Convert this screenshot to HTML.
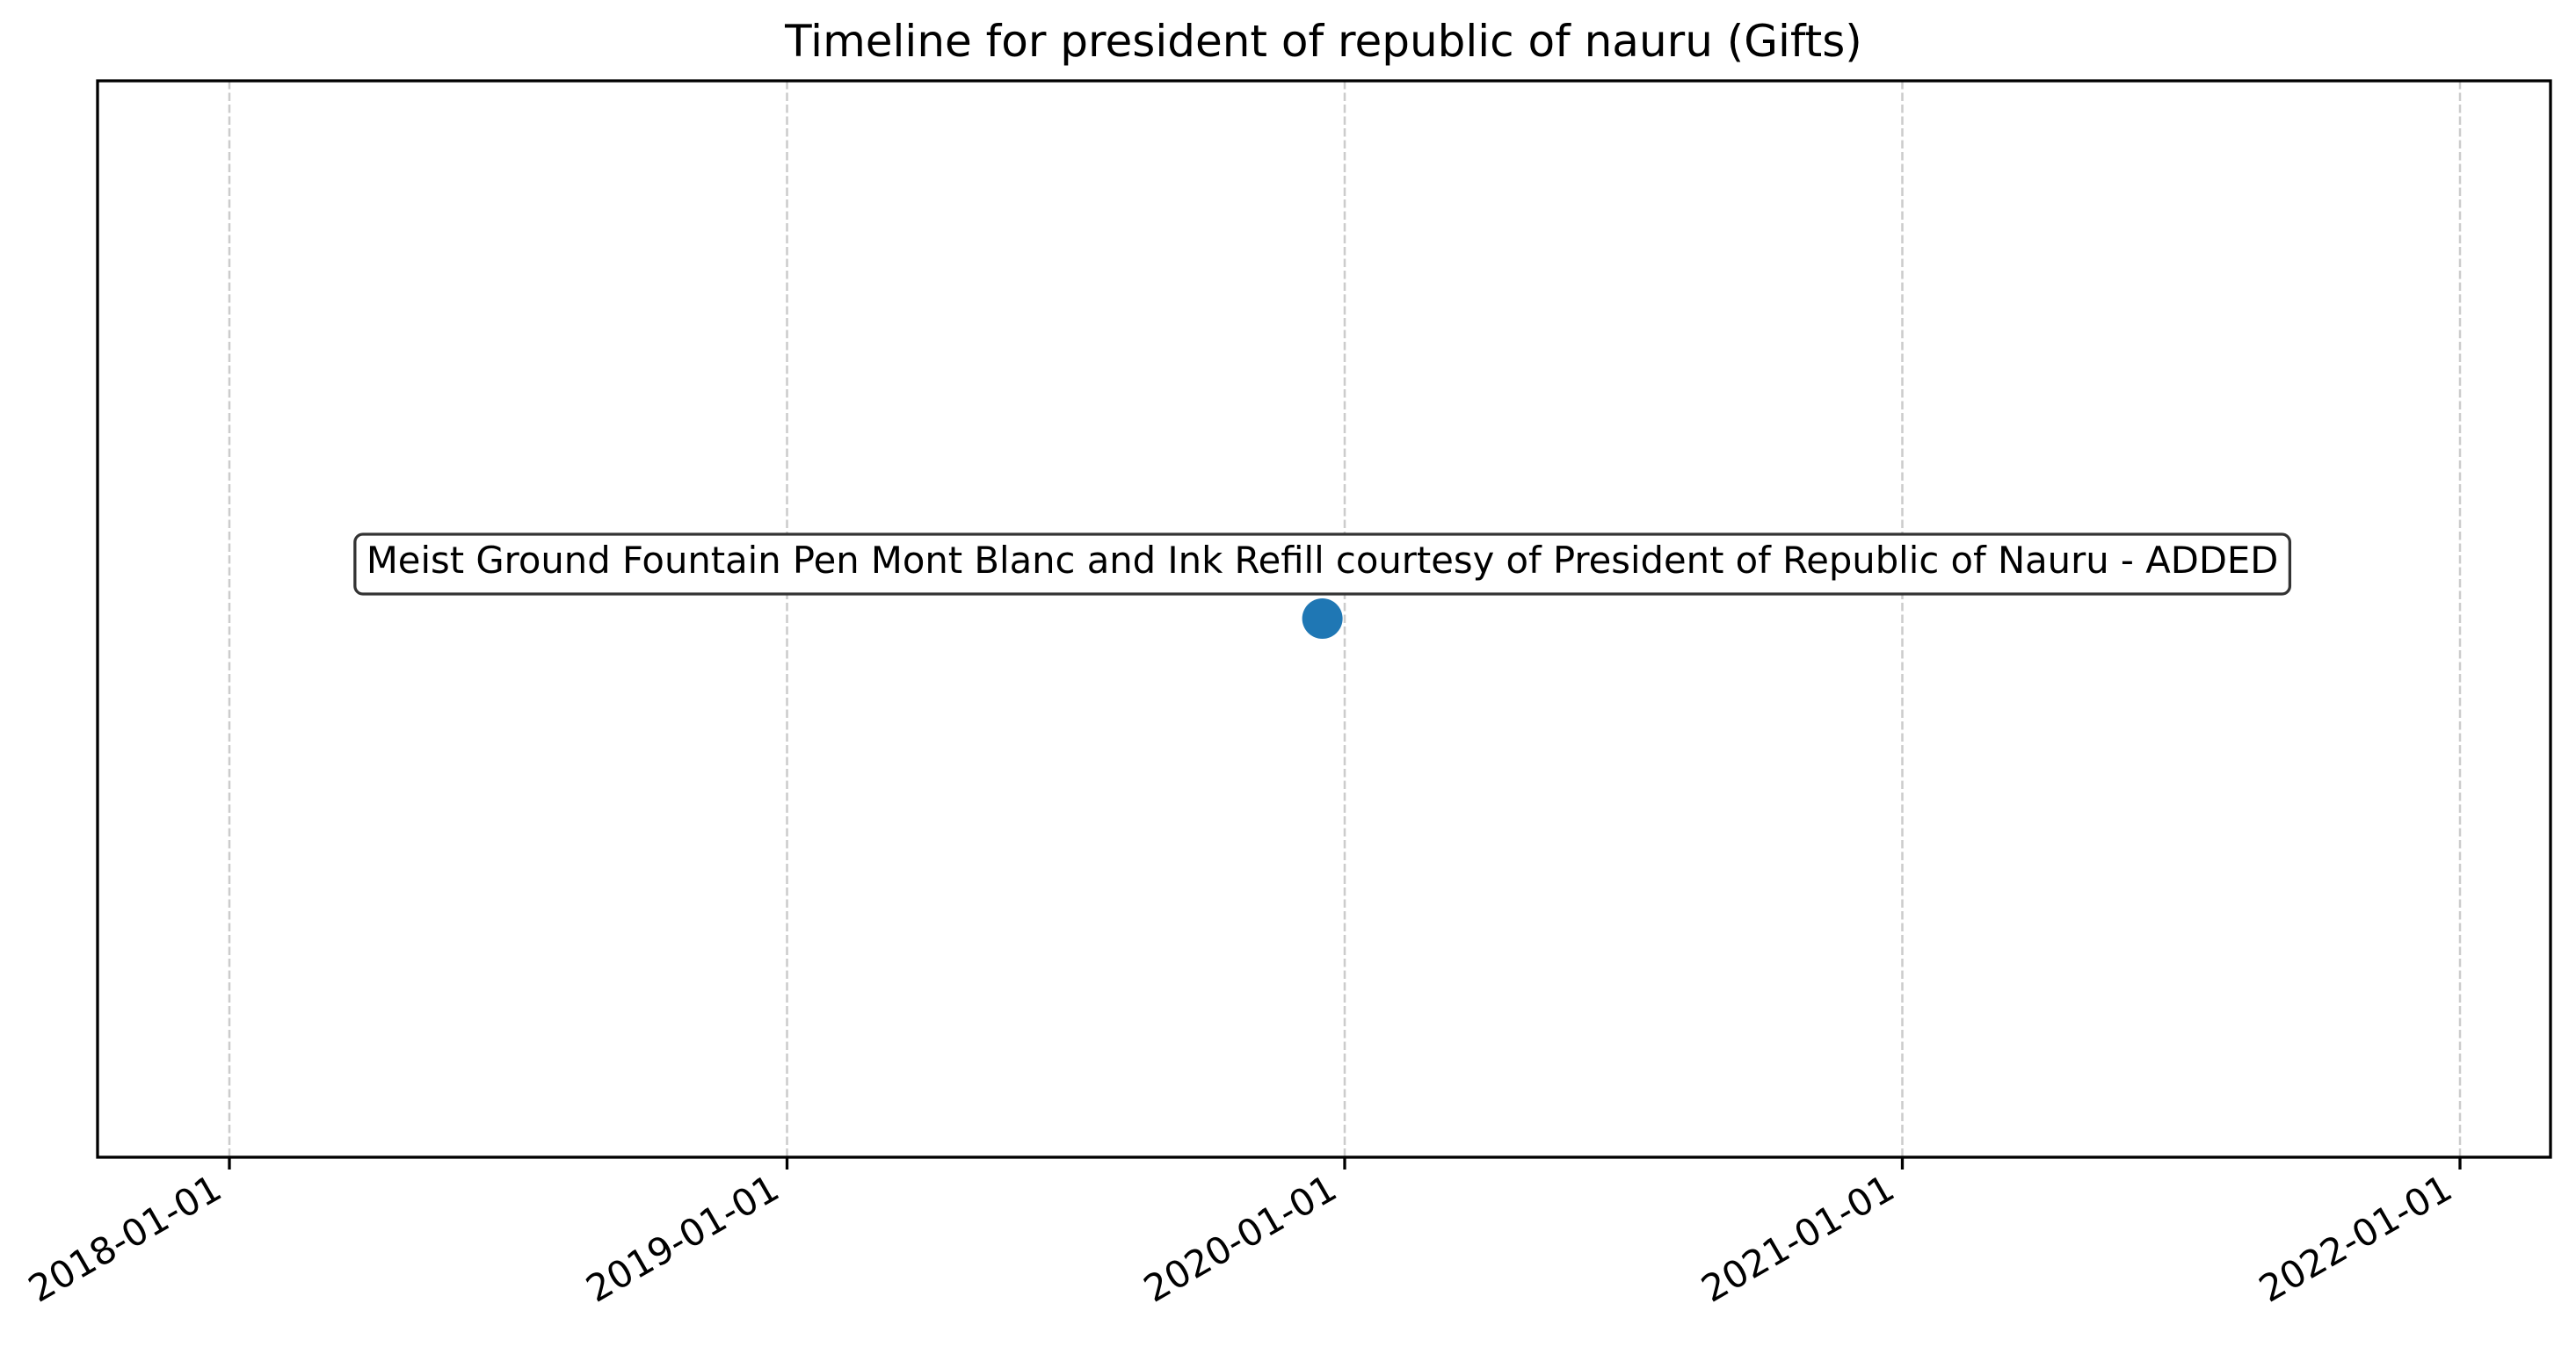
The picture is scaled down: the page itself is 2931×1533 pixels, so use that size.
<!DOCTYPE html>
<html><head><meta charset="utf-8"><style>
html,body{margin:0;padding:0;background:#fff;}
svg{display:block;font-family:"DejaVu Sans","Liberation Sans",sans-serif;}
</style></head><body>
<svg id="chart" width="2931" height="1533" viewBox="0 0 2931 1533" xmlns="http://www.w3.org/2000/svg">
<rect width="2931" height="1533" fill="#fff"/>
<text x="1506" y="64" font-size="50" text-anchor="middle" fill="#000">Timeline for president of republic of nauru (Gifts)</text>
<g id="grid"></g>
<g id="marks"></g>
<rect x="111" y="92" width="2791" height="1225" fill="none" stroke="#000" stroke-width="3.3"/>
<g id="xaxis"></g>
</svg>
<script>
const tickYears = [2018, 2019, 2020, 2021, 2022];
const tickLabels = ["2018-01-01", "2019-01-01", "2020-01-01", "2021-01-01", "2022-01-01"];
const eventDates = [2019.96];
const eventValues = [0];
const eventLabels = ["Meist Ground Fountain Pen Mont Blanc and Ink Refill courtesy of President of Republic of Nauru - ADDED"];

const NS = "http://www.w3.org/2000/svg";
const plotLeft = 111, plotRight = 2902, plotTop = 92, plotBottom = 1317;
function xScale(v){ return 261 + (v - 2018) * 634.5; }
function yScale(v){ return plotBottom - (v + 1) / 2 * (plotBottom - plotTop) - 0.5; }
function mk(tag, attrs){ const e = document.createElementNS(NS, tag); for (const k in attrs) e.setAttribute(k, attrs[k]); return e; }

const grid = document.getElementById('grid');
const xaxis = document.getElementById('xaxis');
tickYears.forEach((yr, i) => {
  const x = xScale(yr);
  const gl = mk('line', {x1:x, x2:x, y1:plotTop, y2:plotBottom, stroke:'#cccccc', 'stroke-width':2.5, 'stroke-dasharray':'9.5,4'});
  
  
  grid.appendChild(gl);
  const tk = mk('line', {x1:x, x2:x, y1:plotBottom, y2:plotBottom + 14, stroke:'#000', 'stroke-width':3.3});
  
  
  xaxis.appendChild(tk);
  const tx = x - 6, ty = plotBottom + 44;
  const t = mk('text', {x:tx, y:ty, 'font-size':42, 'text-anchor':'end', fill:'#000', transform:'rotate(-30 ' + tx + ' ' + ty + ')'});
  t.textContent = tickLabels[i];
  
  
  xaxis.appendChild(t);
});

const marks = document.getElementById('marks');
eventDates.forEach((d, i) => {
  const cx = xScale(d), cy = yScale(eventValues[i]);
  const txt = mk('text', {x:cx, y:cy - 52, 'font-size':41.7, 'text-anchor':'middle', fill:'#000'});
  txt.textContent = eventLabels[i];
  
  
  marks.appendChild(txt);
  const bb = txt.getBBox();
  const box = mk('rect', {x:bb.x - 13, y:cy - 96, width:bb.width + 26, height:68, rx:9, fill:'#fff', stroke:'#333', 'stroke-width':3.3});
  
  
  marks.insertBefore(box, txt);
  const c = mk('circle', {cx:cx, cy:cy, r:23, fill:'#1f77b4'});
  
  
  marks.appendChild(c);
});
</script>
</body></html>
